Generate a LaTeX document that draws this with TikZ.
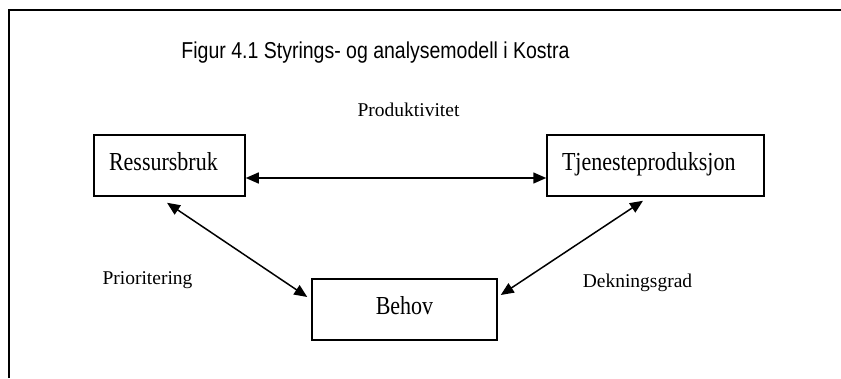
\documentclass[tikz,border=0pt]{standalone}
\usepackage{fontspec}
\usepackage{graphicx}
\setmainfont{Liberation Serif}
\newfontfamily\titlefont{Liberation Sans}
\newcommand{\hoy}[1]{\scalebox{1}[1.18]{#1}}
\usetikzlibrary{arrows.meta}
\begin{document}
\begin{tikzpicture}[x=1pt,y=-1pt,
    boks/.style={draw,line width=1.5pt,inner ysep=0pt,text height=35pt,text depth=26pt,font=\fontsize{22}{26}\selectfont},
    venstre/.style={boks,inner xsep=15pt,text width=#1,align=left},
    lbl/.style={anchor=base,inner sep=0pt,font=\fontsize{19.5}{23}\selectfont},
    pil/.style={line width=1.5pt,{Triangle[length=13pt,width=11pt]}-{Triangle[length=13pt,width=11pt]}}]
    \useasboundingbox (0,0) rectangle (841,378);
    \draw[line width=1.5pt] (9,378)--(9,10)--(841,10);
    \node[anchor=base,inner sep=0pt,font=\titlefont\fontsize{19.5}{23}\selectfont] (tittel) at (375.5,58) {\hoy{Figur 4.1 Styrings- og analysemodell i Kostra}};
    \node[venstre=121pt] (ress) at (169.5,165.5) {\hoy{Ressursbruk}};
    \node[venstre=187pt] (tjen) at (655.5,165.5) {\hoy{Tjenesteproduksjon}};
    \node[boks,minimum width=185pt,align=center] (behov) at (404.5,309.5) {\hoy{Behov}};
    \node[lbl] (prod) at (408.5,116) {Produktivitet};
    \node[lbl] (prio) at (147.5,284) {Prioritering};
    \node[lbl] (dekn) at (637.5,287) {Dekningsgrad};
    \draw[pil] ([yshift=-12.5pt]ress.east) -- ([yshift=-12.5pt]tjen.west);
    \draw[pil] ([xshift=-2.5pt,yshift=-6pt]ress.south) -- ([xshift=-4pt,yshift=12.5pt]behov.west);
    \draw[pil] ([xshift=3pt,yshift=14.5pt]behov.east) -- ([xshift=-12.5pt,yshift=-4pt]tjen.south);
\end{tikzpicture}
\end{document}
